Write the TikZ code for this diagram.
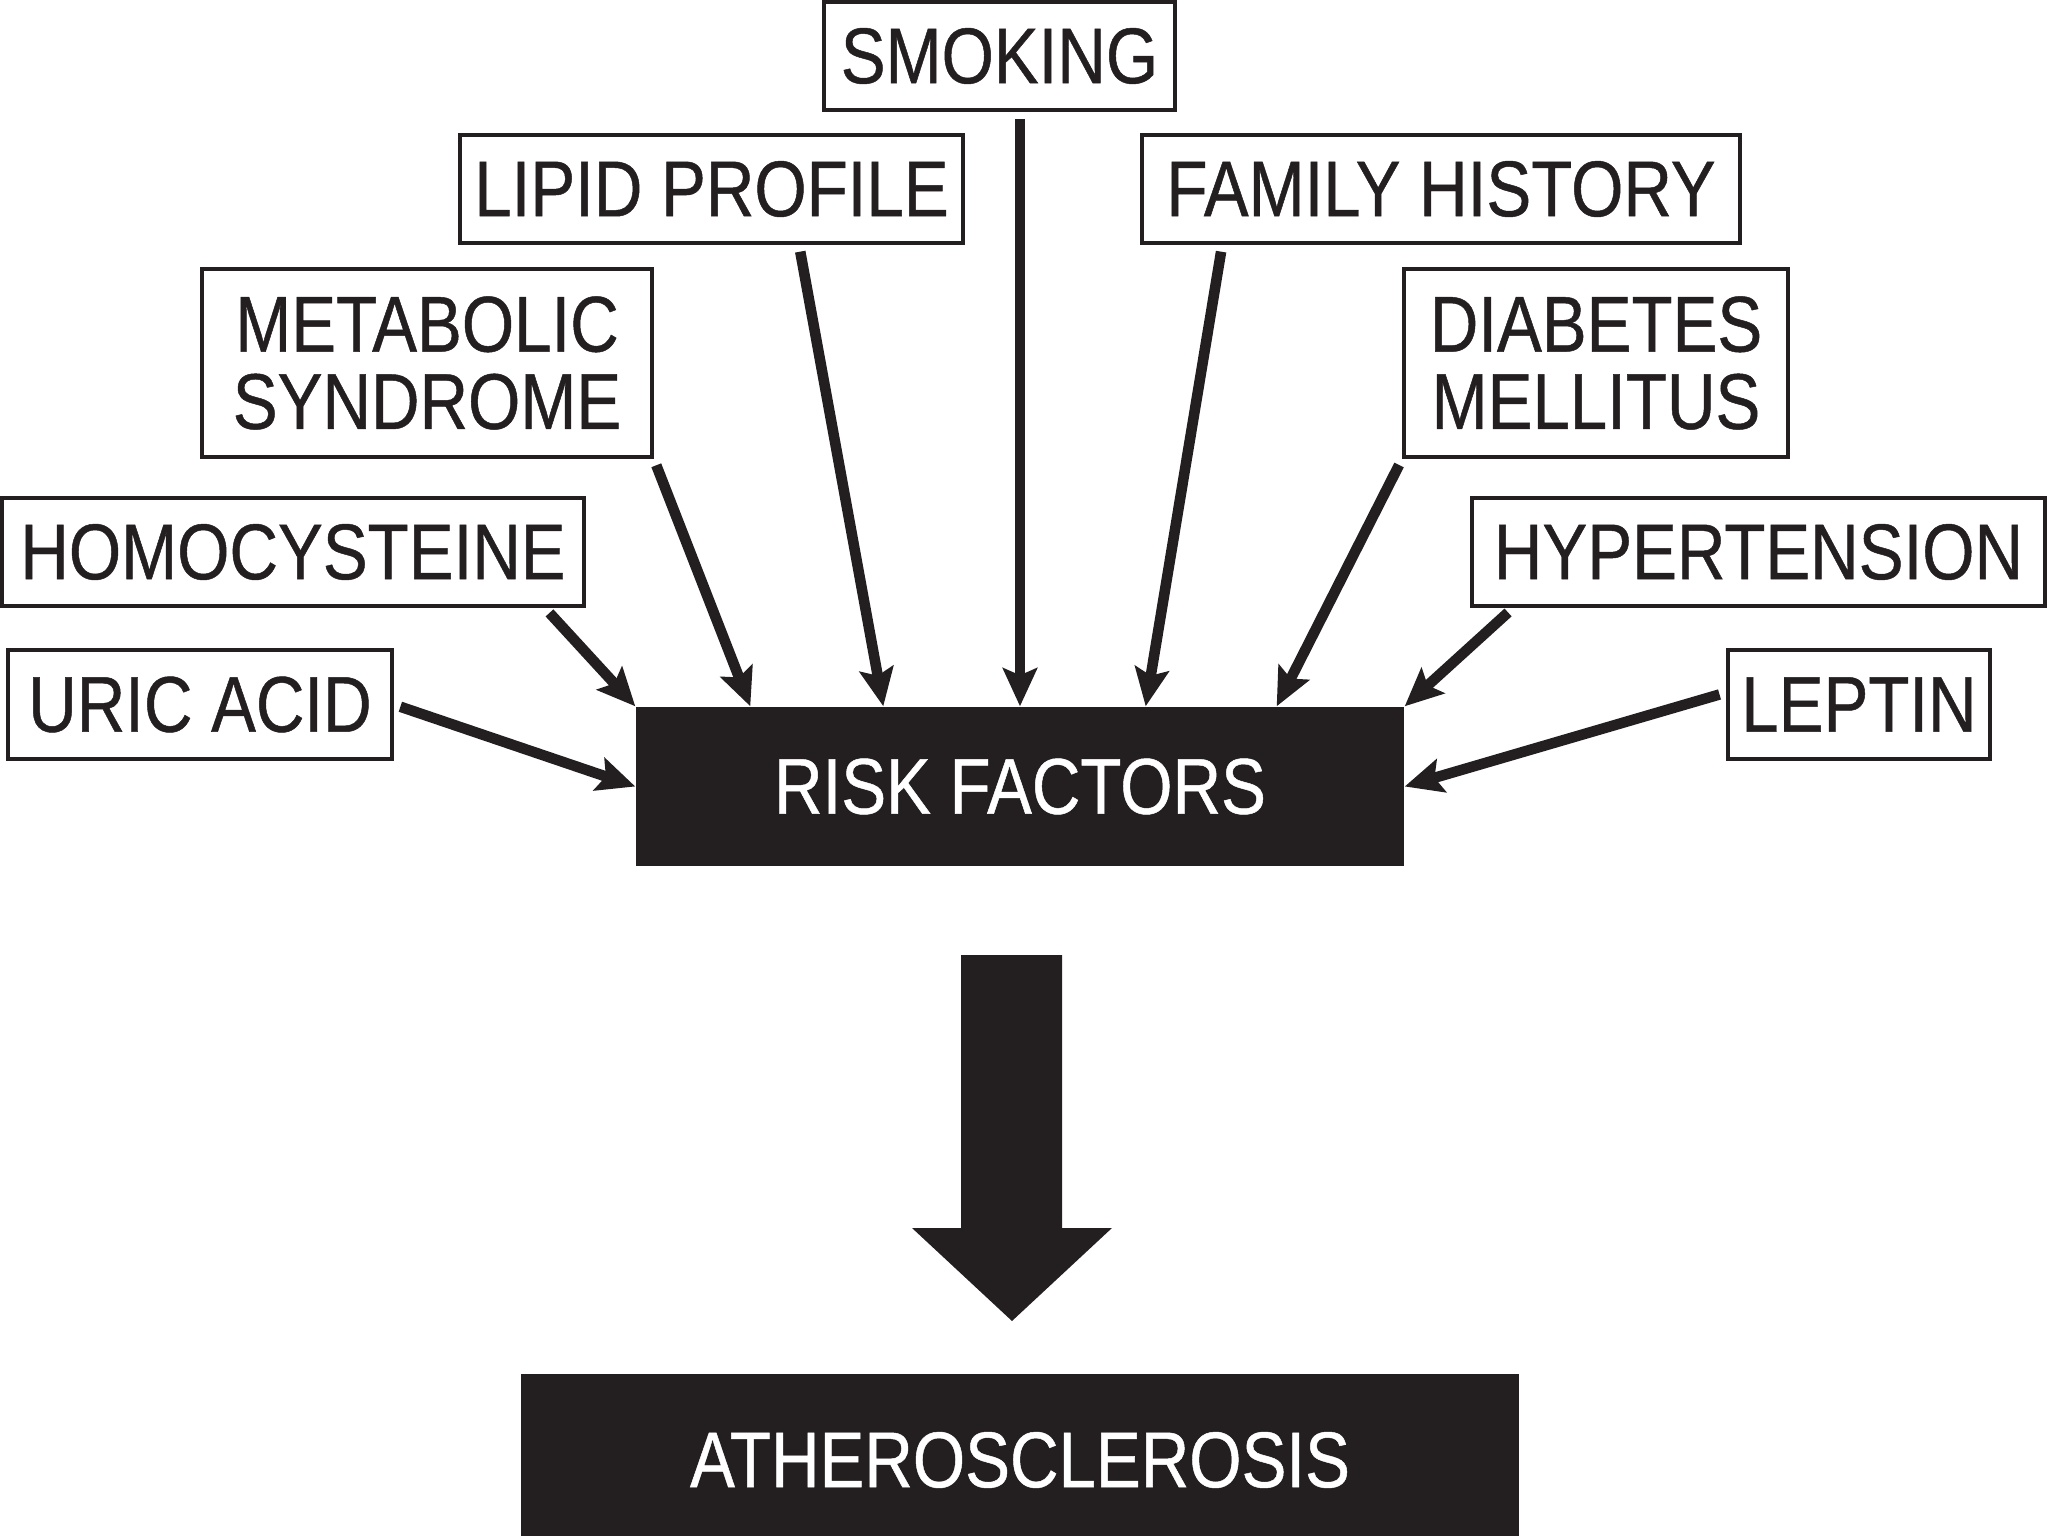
\documentclass[tikz,border=0pt]{standalone}
\usepackage{fontspec}
\setmainfont{Liberation Sans}[FakeStretch=0.85, FakeBold=0.6]
\usetikzlibrary{arrows.meta}
\definecolor{boxblack}{RGB}{35, 31, 32}

\begin{document}
\begin{tikzpicture}[
        fac/.style={draw=boxblack, line width=1pt, inner sep=0pt, align=center,
            font=\fontsize{22.5}{22}\selectfont, text=boxblack},
        blk/.style={fill=boxblack, inner sep=0pt, font=\fontsize{22.5}{22}\selectfont, text=white},
        arr/.style={-{Stealth[length=0.38cm, width=0.34cm, inset=0.07cm]}, line width=3pt,
            draw=boxblack, shorten <=0.07cm}
    ]

    % Page frame, 1 cm = 100 px of the 2048 x 1536 figure
    \useasboundingbox (0, 0) rectangle (20.48, -15.36);

    % === FACTOR BOXES (top fan) ===
    \node[fac, minimum width=3.51cm, minimum height=1.08cm] (smoking) at (9.995, -0.56) {SMOKING};
    \node[fac, minimum width=5.03cm, minimum height=1.08cm] (lipid) at (7.115, -1.89) {LIPID PROFILE};
    \node[fac, minimum width=5.98cm, minimum height=1.08cm] (family) at (14.41, -1.89) {FAMILY HISTORY};
    \node[fac, minimum width=4.50cm, minimum height=1.88cm] (metab) at (4.27, -3.63) {METABOLIC\\SYNDROME};
    \node[fac, minimum width=3.84cm, minimum height=1.88cm] (diab) at (15.96, -3.63) {DIABETES\\MELLITUS};
    \node[fac, minimum width=5.82cm, minimum height=1.08cm] (homo) at (2.93, -5.52) {HOMOCYSTEINE};
    \node[fac, minimum width=5.73cm, minimum height=1.08cm] (hyp) at (17.585, -5.52) {HYPERTENSION};
    \node[fac, minimum width=3.84cm, minimum height=1.09cm] (uric) at (2.00, -7.045) {URIC ACID};
    \node[fac, minimum width=2.62cm, minimum height=1.09cm] (leptin) at (18.59, -7.045) {LEPTIN};

    % === BLACK BOXES ===
    \node[blk, minimum width=7.68cm, minimum height=1.59cm] (risk) at (10.20, -7.865) {RISK FACTORS};
    \node[blk, minimum width=9.98cm, minimum height=1.72cm] (athero) at (10.20, -14.60) {ATHEROSCLEROSIS};

    % === ARROWS INTO RISK FACTORS ===
    \draw[arr] (uric.east) -- (risk.west);
    \draw[arr] ([xshift=-0.41cm]homo.south east) -- (risk.north west);
    \draw[arr] (metab.south east) -- ([xshift=1.15cm]risk.north west);
    \draw[arr] ([xshift=0.875cm]lipid.south) -- ([xshift=2.48cm]risk.north west);
    \draw[arr] (smoking.south -| risk.north) -- (risk.north);
    \draw[arr] ([xshift=0.82cm]family.south west) -- ([xshift=-2.59cm]risk.north east);
    \draw[arr] (diab.south west) -- ([xshift=-1.28cm]risk.north east);
    \draw[arr] ([xshift=0.43cm]hyp.south west) -- (risk.north east);
    \draw[arr] ([yshift=0.12cm]leptin.west) -- (risk.east);

    % Big block arrow down to atherosclerosis
    \fill[boxblack] (9.61, -9.55) -- (10.62, -9.55) -- (10.62, -12.28) -- (11.12, -12.28)
        -- (10.12, -13.21) -- (9.12, -12.28) -- (9.61, -12.28) -- cycle;

\end{tikzpicture}
\end{document}
